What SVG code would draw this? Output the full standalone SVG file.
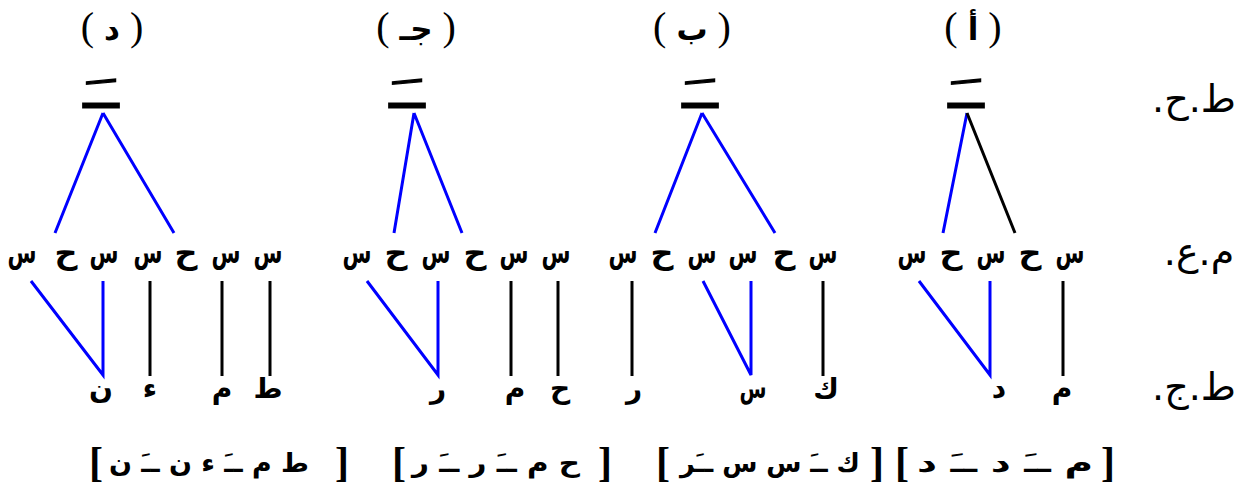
<svg xmlns="http://www.w3.org/2000/svg" width="1250" height="494" viewBox="0 0 1250 494">
<style>
text{font-family:"DejaVu Sans","Liberation Serif",sans-serif;fill:#000}
.ttl{font-family:"Liberation Serif","DejaVu Sans",serif;font-size:40px;text-anchor:middle}
.ttl tspan{font-family:"DejaVu Sans",sans-serif;font-weight:bold;font-size:31px}
.v{font-size:40px;font-weight:bold;text-anchor:middle;stroke:#000;stroke-width:1.2}
.cv text{font-size:31px;font-weight:bold;text-anchor:middle}
.mel text{font-size:28px;font-weight:bold;text-anchor:middle}
.tier{font-size:38px;text-anchor:middle;direction:rtl}
.br{font-family:"Liberation Serif",serif;font-weight:bold;font-size:42px;text-anchor:middle}
.brt{font-size:26px;font-weight:bold;text-anchor:middle;direction:rtl}
.b{stroke:#0000ff;stroke-width:3;fill:none}
.k{stroke:#000;stroke-width:3;fill:none}
</style>
<g id="labels">
<text class="ttl" x="112" y="40">( <tspan>د</tspan> )</text>
<text class="ttl" x="416" y="40">( <tspan>جـ</tspan> )</text>
<text class="ttl" x="692" y="40">( <tspan>ب</tspan> )</text>
<text class="ttl" x="973" y="40">( <tspan>أ</tspan> )</text>
<text class="tier" x="1194" y="112">ط.ح.</text>
<text class="tier" x="1199" y="265">م.ع.</text>
<text class="tier" x="1194" y="400">ط.ج.</text>
</g>
<g id="panel-d">
<text class="v" x="101" y="108" textLength="33" lengthAdjust="spacingAndGlyphs">ـَ</text>
<g class="cv">
<text x="22" y="263" textLength="29" lengthAdjust="spacingAndGlyphs">س</text><text x="66" y="263" textLength="23" lengthAdjust="spacingAndGlyphs">ح</text><text x="104" y="263" textLength="29" lengthAdjust="spacingAndGlyphs">س</text><text x="148" y="263" textLength="29" lengthAdjust="spacingAndGlyphs">س</text><text x="186" y="263" textLength="23" lengthAdjust="spacingAndGlyphs">ح</text><text x="226" y="263" textLength="29" lengthAdjust="spacingAndGlyphs">س</text><text x="268" y="263" textLength="29" lengthAdjust="spacingAndGlyphs">س</text>
</g>
<g class="mel">
<text x="101" y="398">ن</text><text x="150" y="398">ء</text><text x="222" y="398">م</text><text x="268" y="398">ط</text>
</g>
</g>
<g id="panel-j">
<text class="v" x="407" y="108" textLength="33" lengthAdjust="spacingAndGlyphs">ـَ</text>
<g class="cv">
<text x="357" y="263" textLength="29" lengthAdjust="spacingAndGlyphs">س</text><text x="396" y="263" textLength="23" lengthAdjust="spacingAndGlyphs">ح</text><text x="436" y="263" textLength="29" lengthAdjust="spacingAndGlyphs">س</text><text x="475" y="263" textLength="23" lengthAdjust="spacingAndGlyphs">ح</text><text x="514" y="263" textLength="29" lengthAdjust="spacingAndGlyphs">س</text><text x="556" y="263" textLength="29" lengthAdjust="spacingAndGlyphs">س</text>
</g>
<g class="mel">
<text x="438" y="398">ر</text><text x="515" y="398">م</text><text x="560" y="398">ح</text>
</g>
</g>
<g id="panel-b">
<text class="v" x="700" y="108" textLength="33" lengthAdjust="spacingAndGlyphs">ـَ</text>
<g class="cv">
<text x="623" y="263" textLength="29" lengthAdjust="spacingAndGlyphs">س</text><text x="662" y="263" textLength="23" lengthAdjust="spacingAndGlyphs">ح</text><text x="702" y="263" textLength="29" lengthAdjust="spacingAndGlyphs">س</text><text x="743" y="263" textLength="29" lengthAdjust="spacingAndGlyphs">س</text><text x="784" y="263" textLength="23" lengthAdjust="spacingAndGlyphs">ح</text><text x="823" y="263" textLength="29" lengthAdjust="spacingAndGlyphs">س</text>
</g>
<g class="mel">
<text x="634" y="398">ر</text><text x="753" y="398" textLength="27" lengthAdjust="spacingAndGlyphs">س</text><text x="826" y="398">ك</text>
</g>
</g>
<g id="panel-a">
<text class="v" x="966" y="108" textLength="33" lengthAdjust="spacingAndGlyphs">ـَ</text>
<g class="cv">
<text x="912" y="263" textLength="29" lengthAdjust="spacingAndGlyphs">س</text><text x="951" y="263" textLength="23" lengthAdjust="spacingAndGlyphs">ح</text><text x="991" y="263" textLength="29" lengthAdjust="spacingAndGlyphs">س</text><text x="1030" y="263" textLength="23" lengthAdjust="spacingAndGlyphs">ح</text><text x="1070" y="263" textLength="29" lengthAdjust="spacingAndGlyphs">س</text>
</g>
<g class="mel">
<text x="999" y="398">د</text><text x="1062" y="398">م</text>
</g>
</g>
<g id="connectors">
<path class="b" d="M103,113 L55,233 M103,113 L174,233 M31,281 L103,375 L103,281"/>
<path class="k" d="M150,281 V376 M222,281 V376 M270,281 V376"/>
<path class="b" d="M414,113 L394,233 M414,113 L462,233 M367,281 L438,375 L438,281"/>
<path class="k" d="M511,281 V376 M558,281 V376"/>
<path class="b" d="M702,113 L655,233 M702,113 L775,233 M703,281 L751,375 L751,281"/>
<path class="k" d="M632,281 V376 M823,281 V376"/>
<path class="b" d="M967,113 L943,233 M919,281 L990,375 L990,281"/>
<path class="k" d="M967,113 L1015,233 M1063,281 V376"/>
</g>
<g id="forms">
<text class="br" x="96" y="476">[</text><text class="brt" x="209" y="472" textLength="200" lengthAdjust="spacingAndGlyphs">ط م ــَ ء ن ــَ ن</text><text class="br" x="342" y="476">]</text>
<text class="br" x="399" y="476">[</text><text class="brt" x="496" y="472" textLength="168" lengthAdjust="spacingAndGlyphs">ح م ــَ ر ــَ ر</text><text class="br" x="605" y="476">]</text>
<text class="br" x="663" y="476">[</text><text class="brt" x="770" y="472" textLength="180" lengthAdjust="spacingAndGlyphs">ك ــَ س س ــَر</text><text class="br" x="877" y="476">]</text>
<text class="br" x="902" y="476">[</text><text class="brt" x="1005" y="472" textLength="176" lengthAdjust="spacingAndGlyphs">م ــَ د ــَ د</text><text class="br" x="1108" y="476">]</text>
</g>
</svg>
